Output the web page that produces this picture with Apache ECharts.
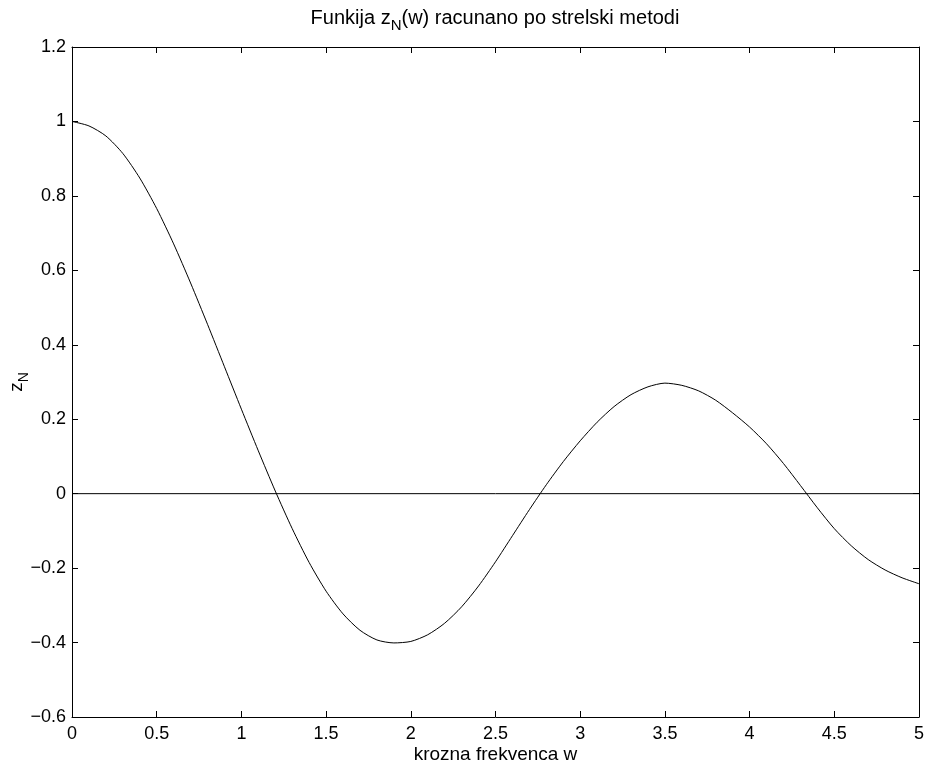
<!DOCTYPE html>
<html>
<head>
<meta charset="utf-8">
<script src="https://cdn.jsdelivr.net/npm/echarts@6/dist/echarts.min.js"></script>
<style>html,body{margin:0;padding:0;background:#fff;}#c{width:925px;height:764px;}</style>
</head>
<body>
<div id="c"></div>
<script>
const wValues = [0.0,0.1,0.2,0.3,0.4,0.5,0.6,0.7,0.8,0.9,1.0,1.1,1.2,1.3,1.4,1.5,1.6,1.7,1.8,1.9,2.0,2.1,2.2,2.3,2.4,2.5,2.6,2.7,2.8,2.9,3.0,3.1,3.2,3.3,3.4,3.5,3.6,3.7,3.8,3.9,4.0,4.1,4.2,4.3,4.4,4.5,4.6,4.7,4.8,4.9,5.0];
const zValues = [1.000,0.988,0.961,0.914,0.848,0.766,0.671,0.566,0.455,0.341,0.227,0.115,0.007,-0.094,-0.185,-0.262,-0.323,-0.367,-0.393,-0.401,-0.397,-0.379,-0.348,-0.304,-0.248,-0.183,-0.113,-0.043,0.024,0.086,0.142,0.192,0.234,0.266,0.287,0.297,0.291,0.276,0.251,0.217,0.179,0.134,0.081,0.022,-0.038,-0.094,-0.140,-0.177,-0.205,-0.226,-0.242];
const zeroLine = [[0, 0], [5, 0]];
const xTickStep = 0.5;
const yTickStep = 0.2;

const FONT = 'Liberation Sans, Arial, Helvetica, sans-serif';
const FS = 18;
function fmt(v) {
  const r = +(+v).toFixed(1);
  if (r < 0) return '\u2212' + String(Math.abs(r));
  return String(r);
}
const chart = echarts.init(document.getElementById('c'), null, {renderer: 'canvas'});
const commonAxisLine = {show: true, onZero: false, lineStyle: {color: '#000', width: 1}};
const commonTick = {show: true, inside: true, length: 6, lineStyle: {color: '#000', width: 1}};
chart.setOption({
  animation: false,
  backgroundColor: '#fff',
  title: {
    text: '{m|Funkija z}{s|N}{m|(w) racunano po strelski metodi}',
    left: 490, textAlign: 'center', top: -2,
    textStyle: {
      fontWeight: 'normal',
      rich: {
        m: {fontFamily: FONT, fontSize: 20, fontWeight: 'normal', color: '#000', lineHeight: 30, verticalAlign: 'middle'},
        s: {fontFamily: FONT, fontSize: 15, fontWeight: 'normal', color: '#000', lineHeight: 30, verticalAlign: 'bottom'}
      }
    }
  },
  grid: {left: 72, right: 6, top: 47, bottom: 47, containLabel: false, outerBoundsMode: 'none'},
  xAxis: [{
    type: 'value', min: 0, max: 5, interval: xTickStep, position: 'bottom',
    axisLine: commonAxisLine, axisTick: commonTick, splitLine: {show: false},
    axisLabel: {color: '#000', fontFamily: FONT, fontSize: FS, margin: 8, formatter: fmt},
    name: 'krozna frekvenca w', nameLocation: 'middle', nameGap: 28, nameMoveOverlap: false,
    nameTextStyle: {color: '#000', fontFamily: FONT, fontSize: 19, verticalAlign: 'top'}
  }, {
    type: 'value', min: 0, max: 5, interval: xTickStep, position: 'top',
    axisLine: commonAxisLine, axisTick: commonTick, splitLine: {show: false},
    axisLabel: {show: false}
  }],
  yAxis: [{
    type: 'value', min: -0.6, max: 1.2, interval: yTickStep, position: 'left',
    axisLine: commonAxisLine, axisTick: commonTick, splitLine: {show: false},
    axisLabel: {color: '#000', fontFamily: FONT, fontSize: FS, margin: 6, formatter: fmt},
    name: '{m|z}{s|N}', nameLocation: 'middle', nameGap: 41, nameRotate: 90, nameMoveOverlap: false,
    nameTextStyle: {
      rich: {
        m: {fontFamily: FONT, fontSize: 19, color: '#000', lineHeight: 28, verticalAlign: 'middle'},
        s: {fontFamily: FONT, fontSize: 14, color: '#000', lineHeight: 28, verticalAlign: 'bottom'}
      }
    }
  }, {
    type: 'value', min: -0.6, max: 1.2, interval: yTickStep, position: 'right',
    axisLine: commonAxisLine, axisTick: commonTick, splitLine: {show: false},
    axisLabel: {show: false}
  }],
  series: [{
    type: 'line', xAxisIndex: 0, yAxisIndex: 0,
    data: wValues.map((w, i) => [w, zValues[i]]),
    smooth: 0.25, showSymbol: false, symbol: 'none',
    lineStyle: {color: '#000', width: 1}
  }, {
    type: 'line', xAxisIndex: 0, yAxisIndex: 0,
    data: zeroLine, showSymbol: false, symbol: 'none',
    lineStyle: {color: '#000', width: 1}
  }]
});
</script>
</body>
</html>
